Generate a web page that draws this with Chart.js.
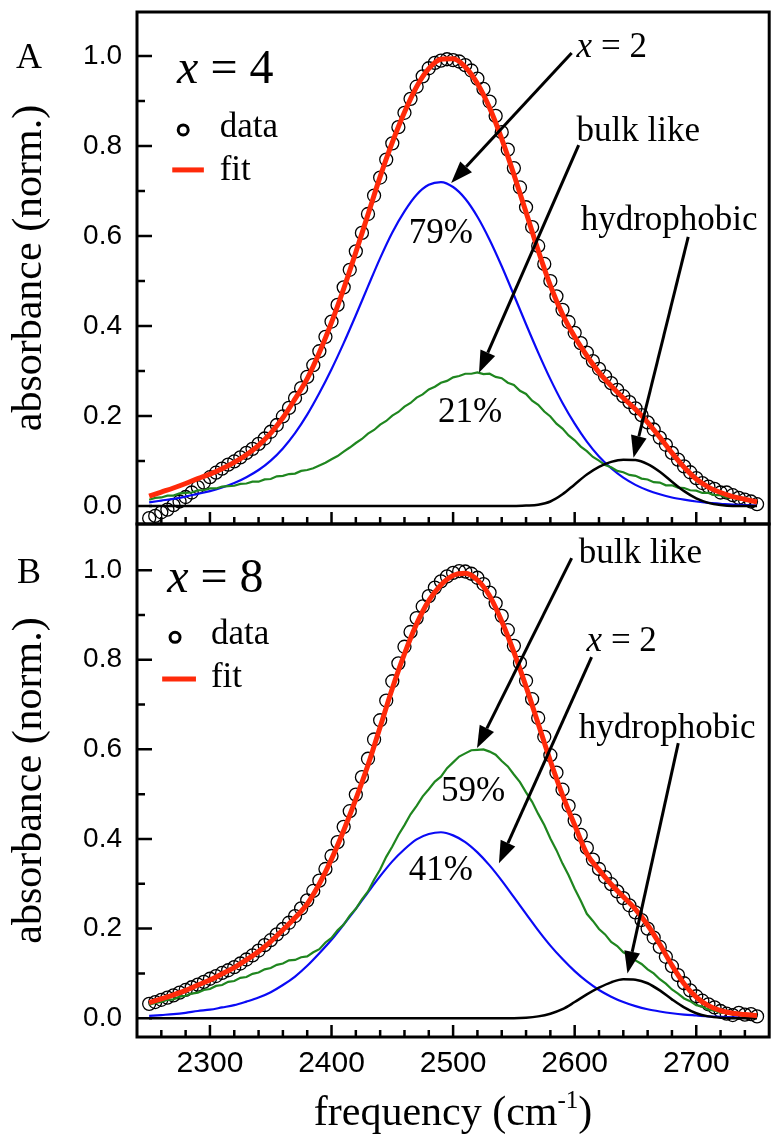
<!DOCTYPE html>
<html>
<head>
<meta charset="utf-8">
<script src="https://cdn.jsdelivr.net/npm/chart.js@4.4.0/dist/chart.umd.min.js"></script>
<style>
  html, body { margin: 0; padding: 0; background: #fff; }
  #wrap { position: relative; width: 777px; height: 1146px; }
  canvas { position: absolute; left: 0; top: 0; }
</style>
</head>
<body>
<div id="wrap">
  <canvas id="panelA" width="777" height="1146"></canvas>
  <canvas id="panelB" width="777" height="1146"></canvas>
</div>
<script>
// frequency grids (cm-1)
const freq10 = [2250, 2260, 2270, 2280, 2290, 2300, 2310, 2320, 2330, 2340,
  2350, 2360, 2370, 2380, 2390, 2400, 2410, 2420, 2430, 2440,
  2450, 2460, 2470, 2480, 2490, 2500, 2510, 2520, 2530, 2540,
  2550, 2560, 2570, 2580, 2590, 2600, 2610, 2620, 2630, 2640,
  2650, 2660, 2670, 2680, 2690, 2700, 2710, 2720, 2730, 2740,
  2750];
const freq5 = [2250, 2255, 2260, 2265, 2270, 2275, 2280, 2285, 2290, 2295,
  2300, 2305, 2310, 2315, 2320, 2325, 2330, 2335, 2340, 2345,
  2350, 2355, 2360, 2365, 2370, 2375, 2380, 2385, 2390, 2395,
  2400, 2405, 2410, 2415, 2420, 2425, 2430, 2435, 2440, 2445,
  2450, 2455, 2460, 2465, 2470, 2475, 2480, 2485, 2490, 2495,
  2500, 2505, 2510, 2515, 2520, 2525, 2530, 2535, 2540, 2545,
  2550, 2555, 2560, 2565, 2570, 2575, 2580, 2585, 2590, 2595,
  2600, 2605, 2610, 2615, 2620, 2625, 2630, 2635, 2640, 2645,
  2650, 2655, 2660, 2665, 2670, 2675, 2680, 2685, 2690, 2695,
  2700, 2705, 2710, 2715, 2720, 2725, 2730, 2735, 2740, 2745,
  2750];

// panel A, x = 4
const dataA = [-0.027, -0.022, -0.014, -0.008, 0.002, 0.010, 0.020, 0.030, 0.042, 0.052,
  0.064, 0.074, 0.083, 0.092, 0.099, 0.108, 0.118, 0.127, 0.138, 0.150,
  0.165, 0.180, 0.199, 0.218, 0.240, 0.262, 0.287, 0.313, 0.344, 0.376,
  0.410, 0.447, 0.486, 0.525, 0.566, 0.607, 0.649, 0.690, 0.730, 0.770,
  0.806, 0.842, 0.874, 0.905, 0.932, 0.955, 0.973, 0.985, 0.990, 0.993,
  0.991, 0.988, 0.980, 0.968, 0.950, 0.927, 0.899, 0.867, 0.831, 0.792,
  0.751, 0.708, 0.664, 0.620, 0.578, 0.538, 0.500, 0.466, 0.436, 0.409,
  0.385, 0.362, 0.341, 0.322, 0.305, 0.288, 0.273, 0.258, 0.244, 0.231,
  0.217, 0.202, 0.186, 0.170, 0.152, 0.136, 0.118, 0.103, 0.088, 0.075,
  0.062, 0.051, 0.043, 0.038, 0.030, 0.030, 0.024, 0.018, 0.014, 0.010,
  0.004];
const fitA = [0.022, 0.031, 0.040, 0.050, 0.061, 0.071, 0.083, 0.097, 0.114, 0.135,
  0.162, 0.196, 0.238, 0.283, 0.341, 0.408, 0.483, 0.564, 0.648, 0.732,
  0.808, 0.875, 0.932, 0.972, 0.993, 0.994, 0.976, 0.939, 0.885, 0.816,
  0.737, 0.653, 0.568, 0.490, 0.426, 0.376, 0.334, 0.297, 0.267, 0.240,
  0.215, 0.186, 0.153, 0.118, 0.086, 0.060, 0.042, 0.030, 0.021, 0.015,
  0.009];
const x2A = [0.008, 0.012, 0.016, 0.021, 0.027, 0.033, 0.041, 0.051, 0.064, 0.080,
  0.101, 0.128, 0.162, 0.203, 0.251, 0.304, 0.362, 0.424, 0.488, 0.551,
  0.608, 0.655, 0.692, 0.714, 0.720, 0.709, 0.683, 0.643, 0.592, 0.533,
  0.469, 0.404, 0.341, 0.282, 0.229, 0.183, 0.143, 0.110, 0.084, 0.063,
  0.047, 0.035, 0.026, 0.019, 0.014, 0.010, 0.007, 0.005, 0.003, 0.002,
  0.001];
const bulkA = [0.014, 0.018, 0.019, 0.023, 0.023, 0.028, 0.029, 0.030, 0.035, 0.035,
  0.039, 0.039, 0.043, 0.044, 0.045, 0.049, 0.050, 0.054, 0.054, 0.059,
  0.060, 0.066, 0.067, 0.071, 0.072, 0.078, 0.080, 0.084, 0.090, 0.096,
  0.104, 0.111, 0.121, 0.130, 0.140, 0.149, 0.161, 0.169, 0.181, 0.189,
  0.201, 0.209, 0.221, 0.229, 0.241, 0.248, 0.259, 0.265, 0.274, 0.278,
  0.286, 0.289, 0.294, 0.294, 0.297, 0.293, 0.294, 0.287, 0.284, 0.274,
  0.269, 0.256, 0.249, 0.234, 0.225, 0.210, 0.199, 0.183, 0.172, 0.157,
  0.146, 0.132, 0.122, 0.109, 0.101, 0.091, 0.086, 0.078, 0.075, 0.069,
  0.067, 0.061, 0.059, 0.053, 0.052, 0.046, 0.046, 0.041, 0.040, 0.035,
  0.034, 0.029, 0.029, 0.024, 0.024, 0.019, 0.019, 0.014, 0.014, 0.009,
  0.009];
const hydroA = [0, 0, 0, 0, 0, 0, 0, 0, 0, 0,
  0, 0, 0, 0, 0, 0, 0, 0, 0, 0,
  0, 0, 0, 0, 0, 0, 0, 0, 0, 0,
  0, 0.001, 0.003, 0.010, 0.026, 0.048, 0.070, 0.087, 0.098, 0.103,
  0.102, 0.093, 0.076, 0.054, 0.033, 0.017, 0.007, 0.002, 0, 0,
  0];

// panel B, x = 8
const dataB = [0.032, 0.036, 0.041, 0.046, 0.051, 0.057, 0.063, 0.069, 0.075, 0.081,
  0.088, 0.094, 0.101, 0.107, 0.114, 0.122, 0.131, 0.140, 0.151, 0.163,
  0.174, 0.187, 0.199, 0.213, 0.228, 0.245, 0.263, 0.284, 0.307, 0.333,
  0.362, 0.393, 0.427, 0.462, 0.499, 0.538, 0.579, 0.622, 0.665, 0.709,
  0.752, 0.792, 0.829, 0.862, 0.893, 0.919, 0.942, 0.961, 0.975, 0.986,
  0.994, 0.998, 0.997, 0.992, 0.983, 0.969, 0.950, 0.926, 0.898, 0.866,
  0.831, 0.793, 0.753, 0.712, 0.670, 0.628, 0.587, 0.548, 0.510, 0.474,
  0.441, 0.409, 0.380, 0.354, 0.333, 0.315, 0.299, 0.283, 0.268, 0.252,
  0.236, 0.219, 0.200, 0.180, 0.159, 0.137, 0.116, 0.096, 0.078, 0.062,
  0.049, 0.039, 0.031, 0.024, 0.016, 0.010, 0.007, 0.012, 0.008, 0.009,
  0.004];
const fitB = [0.035, 0.043, 0.052, 0.062, 0.074, 0.085, 0.099, 0.113, 0.130, 0.149,
  0.171, 0.197, 0.224, 0.255, 0.300, 0.355, 0.419, 0.489, 0.565, 0.650,
  0.736, 0.813, 0.880, 0.932, 0.967, 0.988, 0.993, 0.978, 0.943, 0.886,
  0.817, 0.740, 0.657, 0.574, 0.498, 0.431, 0.367, 0.331, 0.299, 0.271,
  0.243, 0.208, 0.165, 0.118, 0.077, 0.047, 0.028, 0.017, 0.011, 0.008,
  0.006];
const x2B = [0.005, 0.007, 0.009, 0.012, 0.016, 0.019, 0.024, 0.029, 0.037, 0.046,
  0.058, 0.074, 0.093, 0.117, 0.145, 0.175, 0.209, 0.244, 0.281, 0.317,
  0.350, 0.377, 0.399, 0.411, 0.415, 0.408, 0.393, 0.370, 0.341, 0.307,
  0.270, 0.233, 0.196, 0.162, 0.132, 0.105, 0.082, 0.063, 0.048, 0.036,
  0.027, 0.020, 0.015, 0.011, 0.008, 0.006, 0.004, 0.003, 0.002, 0.001,
  0.001];
const bulkB = [0.030, 0.034, 0.036, 0.041, 0.042, 0.048, 0.050, 0.055, 0.057, 0.063,
  0.065, 0.072, 0.074, 0.081, 0.083, 0.090, 0.092, 0.099, 0.102, 0.109,
  0.112, 0.119, 0.122, 0.129, 0.130, 0.136, 0.138, 0.147, 0.154, 0.169,
  0.179, 0.196, 0.209, 0.229, 0.244, 0.265, 0.283, 0.309, 0.332, 0.360,
  0.383, 0.409, 0.431, 0.455, 0.474, 0.495, 0.511, 0.528, 0.539, 0.558,
  0.571, 0.584, 0.591, 0.598, 0.599, 0.600, 0.595, 0.588, 0.574, 0.562,
  0.544, 0.527, 0.504, 0.483, 0.456, 0.431, 0.401, 0.375, 0.345, 0.319,
  0.289, 0.262, 0.233, 0.217, 0.199, 0.187, 0.170, 0.161, 0.147, 0.140,
  0.129, 0.121, 0.109, 0.100, 0.087, 0.077, 0.064, 0.055, 0.044, 0.038,
  0.029, 0.026, 0.019, 0.017, 0.012, 0.012, 0.008, 0.009, 0.006, 0.007,
  0.004];
const hydroB = [0, 0, 0, 0, 0, 0, 0, 0, 0, 0,
  0, 0, 0, 0, 0, 0, 0, 0, 0, 0,
  0, 0, 0, 0, 0, 0, 0, 0, 0, 0,
  0, 0.001, 0.004, 0.010, 0.020, 0.036, 0.053, 0.068, 0.080, 0.087,
  0.086, 0.078, 0.062, 0.042, 0.024, 0.011, 0.004, 0.001, 0, 0,
  0];

const xTickValues = [2300, 2400, 2500, 2600, 2700];
const yTickValues = [0, 0.2, 0.4, 0.6, 0.8, 1.0];

const SERIF = '"Liberation Serif", "Times New Roman", serif';
const SANS = '"Liberation Sans", Arial, sans-serif';
const RED = '#ff2a0a';

function pts(xs, ys) {
  return xs.map((x, i) => ({ x: x, y: ys[i] }));
}

function drawParts(ctx, parts, x, y, size, align) {
  const widths = parts.map((p) => {
    ctx.font = (p[1] ? 'italic ' : '') + size + 'px ' + SERIF;
    return ctx.measureText(p[0]).width;
  });
  const total = widths.reduce((a, b) => a + b, 0);
  let cx = align === 'center' ? x - total / 2 : x;
  parts.forEach((p, i) => {
    ctx.font = (p[1] ? 'italic ' : '') + size + 'px ' + SERIF;
    ctx.fillText(p[0], cx, y);
    cx += widths[i];
  });
}

function drawArrow(ctx, x1, y1, x2, y2) {
  const ang = Math.atan2(y2 - y1, x2 - x1);
  const head = 22, half = 8;
  const bx = x2 - head * Math.cos(ang), by = y2 - head * Math.sin(ang);
  ctx.lineWidth = 3;
  ctx.beginPath();
  ctx.moveTo(x1, y1);
  ctx.lineTo(bx, by);
  ctx.stroke();
  ctx.beginPath();
  ctx.moveTo(x2, y2);
  ctx.lineTo(bx + half * Math.sin(ang), by - half * Math.cos(ang));
  ctx.lineTo(bx - half * Math.sin(ang), by + half * Math.cos(ang));
  ctx.closePath();
  ctx.fill();
}

function decor(cfg) {
  return {
    id: 'decor',
    afterDatasetsDraw(chart) {
      const ctx = chart.ctx;
      const area = chart.chartArea;
      const xs = chart.scales.x;
      const ys = chart.scales.y;
      const px = (v) => xs.getPixelForValue(v);
      const py = (v) => ys.getPixelForValue(v);
      ctx.save();
      ctx.strokeStyle = '#000';
      ctx.fillStyle = '#000';

      // frame and inward ticks
      ctx.lineWidth = 3;
      ctx.strokeRect(area.left, area.top, area.right - area.left, area.bottom - area.top);
      ctx.lineWidth = 2.5;
      ctx.beginPath();
      for (let v = 2260; v <= 2740; v += 20) {
        const len = v % 100 === 0 ? 12 : 7;
        ctx.moveTo(px(v), area.bottom);
        ctx.lineTo(px(v), area.bottom - len);
      }
      for (let k = 0; k <= 10; k++) {
        const len = k % 2 === 0 ? 15 : 8;
        ctx.moveTo(area.left, py(k / 10));
        ctx.lineTo(area.left + len, py(k / 10));
      }
      ctx.stroke();

      ctx.textAlign = 'left';
      ctx.textBaseline = 'alphabetic';

      // panel letter
      ctx.font = '36px ' + SERIF;
      ctx.textAlign = 'center';
      ctx.fillText(cfg.letter, 29, area.top + cfg.letterDy);
      ctx.textAlign = 'left';

      // legend
      const lg = cfg.legend;
      ctx.lineWidth = 3;
      ctx.beginPath();
      ctx.arc(px(lg.dot[0]), py(lg.dot[1]), 5, 0, Math.PI * 2);
      ctx.stroke();
      ctx.strokeStyle = RED;
      ctx.lineWidth = 5;
      ctx.beginPath();
      ctx.moveTo(px(lg.line[0]), py(lg.line[2]));
      ctx.lineTo(px(lg.line[1]), py(lg.line[2]));
      ctx.stroke();
      ctx.strokeStyle = '#000';
      ctx.font = '35px ' + SERIF;
      ctx.fillText('data', px(lg.textX), py(lg.dataY));
      ctx.fillText('fit', px(lg.textX), py(lg.fitY));

      cfg.notes.forEach((n) => {
        drawParts(ctx, n.parts, px(n.x), py(n.y), n.size || 35, n.align);
      });
      cfg.arrows.forEach((a) => {
        drawArrow(ctx, px(a[0]), py(a[1]), px(a[2]), py(a[3]));
      });

      if (cfg.xTitle) {
        const cx = (area.left + area.right) / 2;
        const base = area.bottom + 88;
        ctx.font = '42px ' + SERIF;
        const w1 = ctx.measureText('frequency (cm').width;
        const w3 = ctx.measureText(')').width;
        ctx.font = '25px ' + SERIF;
        const w2 = ctx.measureText('-1').width;
        let x = cx - (w1 + w2 + w3) / 2;
        ctx.font = '42px ' + SERIF;
        ctx.fillText('frequency (cm', x, base);
        x += w1;
        ctx.font = '25px ' + SERIF;
        ctx.fillText('-1', x, base - 17);
        x += w2;
        ctx.font = '42px ' + SERIF;
        ctx.fillText(')', x, base);
      }
      ctx.restore();
    }
  };
}

function makePanel(id, p) {
  const datasets = [
    { data: pts(freq5, p.data), showLine: false, pointRadius: 6.5, pointBorderWidth: 1.3,
      pointBorderColor: '#000', pointBackgroundColor: 'rgba(0,0,0,0)', order: 5 },
    { data: pts(freq10, p.x2), borderColor: '#0a0af5', borderWidth: 2.2, pointRadius: 0,
      cubicInterpolationMode: 'monotone', order: 4 },
    { data: pts(freq5, p.bulk), borderColor: '#1f861f', borderWidth: 2.2, pointRadius: 0,
      tension: 0, order: 3 },
    { data: pts(freq10, p.hydro), borderColor: '#000', borderWidth: 2.5, pointRadius: 0,
      cubicInterpolationMode: 'monotone', order: 2 },
    { data: pts(freq10, p.fit), borderColor: RED, borderWidth: 5, pointRadius: 0,
      cubicInterpolationMode: 'monotone', order: 1 }
  ];
  return new Chart(document.getElementById(id), {
    type: 'line',
    data: { datasets: datasets },
    options: {
      responsive: false,
      animation: false,
      devicePixelRatio: 1,
      layout: { padding: p.padding },
      plugins: { legend: { display: false }, tooltip: { enabled: false } },
      scales: {
        x: {
          type: 'linear',
          min: 2240,
          max: 2760,
          display: p.showX,
          grid: { display: false, drawTicks: false },
          border: { display: false },
          afterBuildTicks: (s) => { s.ticks = xTickValues.map((v) => ({ value: v })); },
          afterFit: (s) => {
            s.height = p.showX ? 60 : 0;
            s.paddingLeft = 0;
            s.paddingRight = 0;
          },
          ticks: {
            color: '#000',
            padding: 12,
            maxRotation: 0,
            font: { family: SANS, size: 30, lineHeight: 1 },
            callback: (v) => String(v)
          }
        },
        y: {
          min: p.yMin,
          max: p.yMax,
          grid: { display: false, drawTicks: false },
          border: { display: false },
          afterBuildTicks: (s) => { s.ticks = yTickValues.map((v) => ({ value: v })); },
          afterFit: (s) => { s.width = 137; s.paddingTop = 0; s.paddingBottom = 0; },
          ticks: {
            color: '#000',
            padding: 15,
            font: { family: SANS, size: 28, lineHeight: 1 },
            callback: (v) => v.toFixed(1)
          },
          title: {
            display: true,
            text: 'absorbance (norm.)',
            color: '#000',
            font: { family: SERIF, size: 42, lineHeight: 1 },
            padding: { top: 9, bottom: 0 }
          }
        }
      }
    },
    plugins: [decor(p.decor)]
  });
}

makePanel('panelA', {
  data: dataA, fit: fitA, x2: x2A, bulk: bulkA, hydro: hydroA,
  yMin: -0.04, yMax: 1.098, showX: false,
  padding: { left: 0, right: 6, top: 12, bottom: 622 },
  decor: {
    letter: 'A', letterDy: 56,
    legend: { dot: [2278, 0.836], line: [2269, 2295, 0.747], textX: 2308, dataY: 0.82, fitY: 0.724 },
    notes: [
      { parts: [['x', true], [' = 4', false]], x: 2273, y: 0.94, size: 48 },
      { parts: [['x', true], [' = 2', false]], x: 2601.6, y: 0.998 },
      { parts: [['bulk like', false]], x: 2601.6, y: 0.811 },
      { parts: [['hydrophobic', false]], x: 2604.9, y: 0.613 },
      { parts: [['79%', false]], x: 2490, y: 0.584, align: 'center' },
      { parts: [['21%', false]], x: 2514, y: 0.187, align: 'center' }
    ],
    arrows: [
      [2597.5, 1.007, 2498.4, 0.718],
      [2603.3, 0.802, 2521.3, 0.296],
      [2693.4, 0.598, 2648.4, 0.107]
    ]
  }
});

makePanel('panelB', {
  data: dataB, fit: fitB, x2: x2B, bulk: bulkB, hydro: hydroB,
  yMin: -0.042, yMax: 1.103, showX: true,
  padding: { left: 0, right: 6, top: 524, bottom: 49 },
  decor: {
    letter: 'B', letterDy: 59, xTitle: true,
    legend: { dot: [2271.3, 0.85], line: [2260.7, 2288.5, 0.757], textX: 2300.8, dataY: 0.835, fitY: 0.739 },
    notes: [
      { parts: [['x', true], [' = 8', false]], x: 2264.8, y: 0.951, size: 48 },
      { parts: [['bulk like', false]], x: 2603.3, y: 1.016 },
      { parts: [['x', true], [' = 2', false]], x: 2609.8, y: 0.819 },
      { parts: [['hydrophobic', false]], x: 2603.3, y: 0.625 },
      { parts: [['59%', false]], x: 2516.4, y: 0.484, align: 'center' },
      { parts: [['41%', false]], x: 2490, y: 0.308, align: 'center' }
    ],
    arrows: [
      [2597.5, 1.027, 2519.7, 0.603],
      [2613.9, 0.806, 2537.7, 0.346],
      [2685.2, 0.614, 2643.4, 0.1]
    ]
  }
});
</script>
</body>
</html>
